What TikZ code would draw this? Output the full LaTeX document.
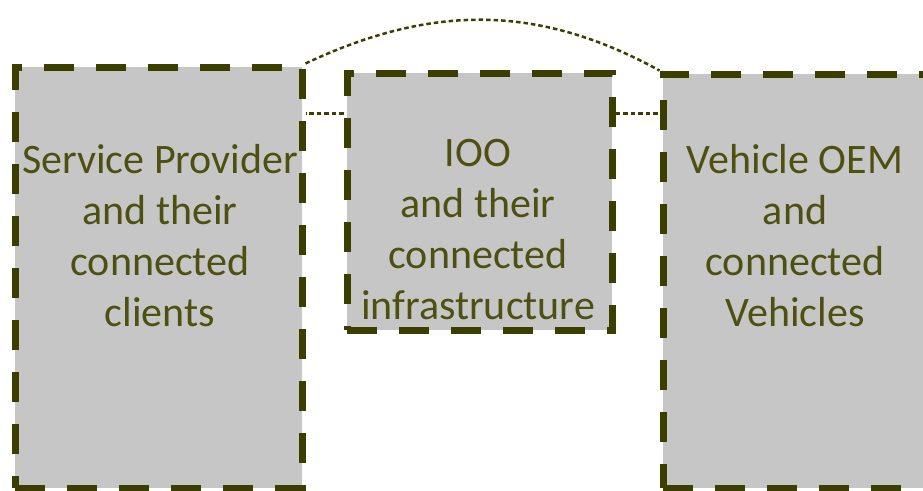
\documentclass[tikz,border=0pt]{standalone}
\usepackage{fontspec}
\setmainfont{Carlito}
\definecolor{boxfill}{RGB}{198,198,198}
\definecolor{edge}{RGB}{60,62,0}
\definecolor{txt}{RGB}{78,80,18}
\tikzset{
  part/.style={draw=edge, fill=boxfill, line width=7pt, dash pattern=on 30pt off 22pt, inner sep=0pt},
  conn/.style={draw=edge, line width=2.5pt, dash pattern=on 4.5pt off 3pt},
  lbl/.style={text=txt, align=center, font=\fontsize{42pt}{51pt}\selectfont, inner sep=0pt}
}
\begin{document}
\begin{tikzpicture}[x=1pt,y=-1pt]
\useasboundingbox (0,0) rectangle (923,490);
\clip (0,0) rectangle (923,490);
\node[part, minimum width=287pt, minimum height=421pt] (sp) at (158.5,277.5) {};
\node[part, minimum width=265pt, minimum height=257pt] (ioo) at (479.5,201.5) {};
\node[part, minimum width=300pt, minimum height=414pt] (oem) at (813,281) {};
\draw[conn] (sp.north east) .. controls (432,4) and (538,4) .. (oem.north west);
\draw[conn] ([yshift=-44pt]ioo.north west) -- ([yshift=-44pt]ioo.north west -| sp.east);
\draw[conn] ([yshift=-44pt]ioo.north east) -- ([yshift=-44pt]ioo.north east -| oem.west);
\node[lbl] (sptext) at (160,236) {Service Provider\\and their\\connected\\clients};
\node[lbl] (iootext) at (478,230) {IOO\\and their\\connected\\infrastructure};
\node[lbl] (oemtext) at (795,236) {Vehicle OEM\\and\\connected\\Vehicles};
\end{tikzpicture}
\end{document}
